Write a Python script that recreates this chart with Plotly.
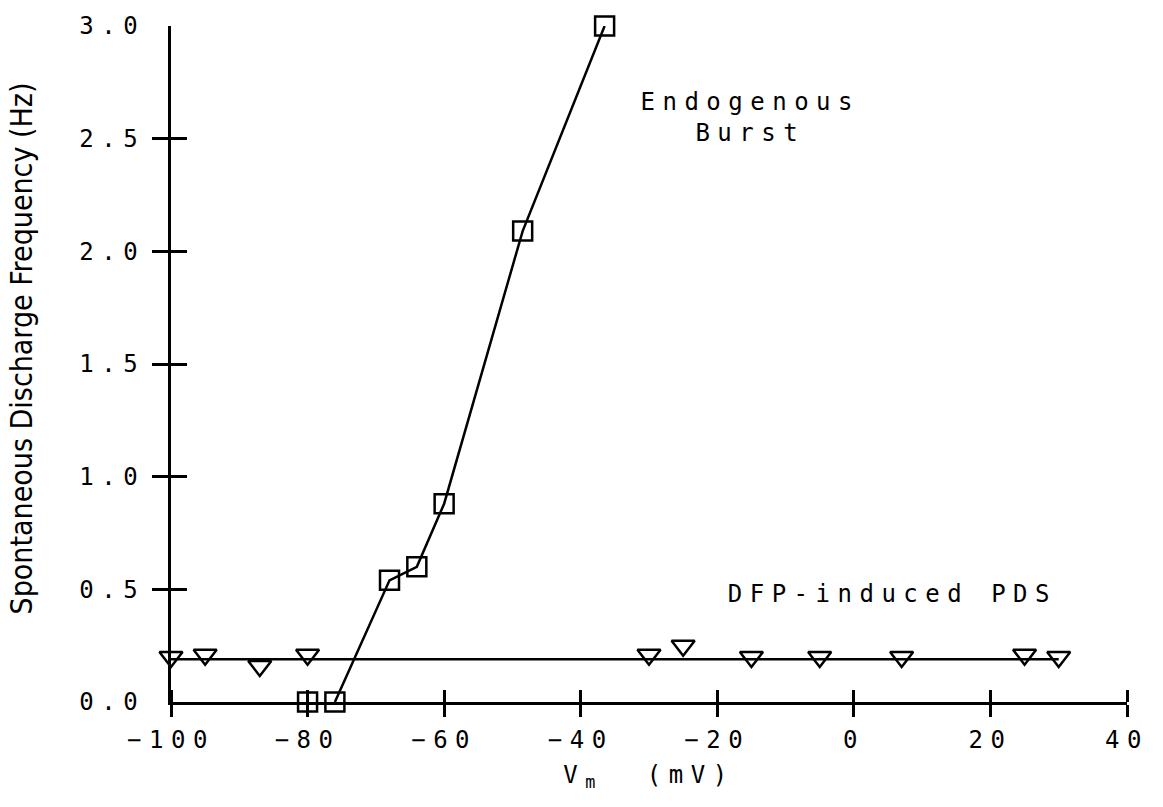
import plotly.graph_objects as go

# ---- data ----
burst_v = [-80, -76, -68, -64, -60, -48.5, -36.5]
burst_f = [0.0, 0.0, 0.54, 0.60, 0.88, 2.09, 3.0]

pds_v = [-100, -95, -87, -80, -30, -25, -15, -5, 7, 25, 30]
pds_f = [0.20, 0.21, 0.16, 0.21, 0.21, 0.25, 0.20, 0.20, 0.20, 0.21, 0.20]

pds_fit_v = [-100, 30]
pds_fit_f = [0.19, 0.19]

x_ticks = [-100, -80, -60, -40, -20, 0, 20, 40]
y_ticks = [0.0, 0.5, 1.0, 1.5, 2.0, 2.5, 3.0]
y_tick_text = ["0.0", "0.5", "1.0", "1.5", "2.0", "2.5", "3.0"]
y_tick_marks = [0.5, 1.0, 1.5, 2.0, 2.5, 3.0]

MONO = "DejaVu Sans Mono"
COND = "DejaVu Sans Condensed, Liberation Sans Narrow, DejaVu Sans"

fig = go.Figure()

fig.add_trace(go.Scatter(x=burst_v[1:], y=burst_f[1:], mode="lines",
                         line=dict(color="black", width=2.5),
                         cliponaxis=False, showlegend=False, hoverinfo="skip"))
fig.add_trace(go.Scatter(x=pds_fit_v, y=pds_fit_f, mode="lines",
                         line=dict(color="black", width=2.5),
                         cliponaxis=False, showlegend=False, hoverinfo="skip"))
fig.add_trace(go.Scatter(x=burst_v, y=burst_f, mode="markers",
                         marker=dict(symbol="square-open", size=19, color="black",
                                     line=dict(color="black", width=2.5)),
                         cliponaxis=False, showlegend=False, name="Endogenous Burst"))
fig.add_trace(go.Scatter(x=pds_v, y=pds_f, mode="markers",
                         marker=dict(symbol="triangle-down-open", size=20, color="black",
                                     line=dict(color="black", width=2.5)),
                         cliponaxis=False, showlegend=False, name="DFP-induced PDS"))

tickfont = dict(family=MONO, size=24, color="black")

fig.update_layout(
    width=1163, height=807,
    margin=dict(l=171, r=36, t=21, b=105),
    paper_bgcolor="white", plot_bgcolor="white",
    xaxis=dict(range=[-100, 40], tickvals=x_ticks, ticks="outside", ticklen=12,
               tickwidth=3, tickcolor="black", showline=True, linewidth=3,
               linecolor="black", showgrid=False, zeroline=False,
               minor=dict(tickmode="array", tickvals=x_ticks, ticks="inside", ticklen=12,
                          tickwidth=3, tickcolor="black", showgrid=False),
               tickfont=tickfont, ticklabelstandoff=2,
               title=dict(text="V<sub>m</sub>  (mV)", font=dict(family=MONO, size=24, color="black"),
                          standoff=14)),
    yaxis=dict(range=[0, 3], tickvals=y_ticks, ticktext=y_tick_text, ticks="inside",
               ticklen=16, tickwidth=3, tickcolor="black", showline=True, linewidth=3,
               linecolor="black", showgrid=False, zeroline=False,
               minor=dict(tickmode="array", tickvals=y_tick_marks, ticks="outside", ticklen=16,
                          tickwidth=3, tickcolor="black", showgrid=False),
               tickfont=tickfont, ticklabelstandoff=18),
    annotations=[
        dict(x=-15.2, y=2.595, xref="x", yref="y", text="Endogenous<br>Burst",
             showarrow=False, xanchor="center", yanchor="middle",
             font=dict(family=MONO, size=24, color="black")),
        dict(x=5.7, y=0.478, xref="x", yref="y", text="DFP-induced PDS",
             showarrow=False, xanchor="center", yanchor="middle",
             font=dict(family=MONO, size=24, color="black")),
        dict(x=-0.156, y=0.5228, xref="paper", yref="paper",
             text="Spontaneous Discharge Frequency (Hz)", textangle=-90,
             showarrow=False, xanchor="center", yanchor="middle",
             font=dict(family=COND, size=30, color="black")),
    ],
)

post = """
var st=document.createElement('style');
st.textContent='.xtick text,.ytick text,.xtitle{letter-spacing:7.5px;} .annotation:not(:last-child) .annotation-text{letter-spacing:7.5px;}';
document.head.appendChild(st);
"""

fig.write_html("out.html", post_script=post)
